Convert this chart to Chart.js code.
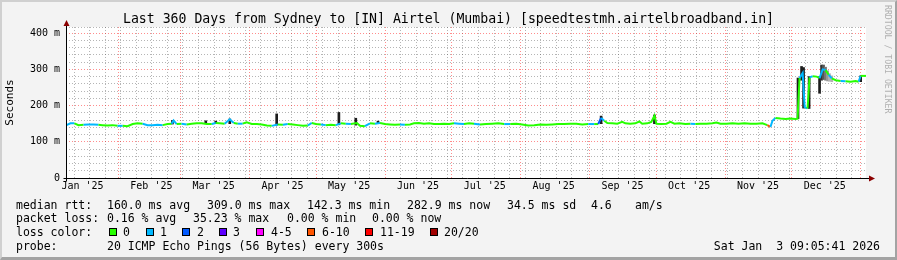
<!DOCTYPE html>
<html>
<head>
<meta charset="utf-8">
<script src="https://cdn.jsdelivr.net/npm/chart.js@4.4.1/dist/chart.umd.min.js"></script>
<style>
  body { margin: 0; background: #fff; }
  #wrap { position: relative; width: 897px; height: 260px; background: #f3f3f3; overflow: hidden;
          font-family: 'DejaVu Sans Mono', monospace; color: #000; }
  #c { position: absolute; left: 0; top: 0; }
  #frame { position: absolute; left: 0; top: 0; width: 897px; height: 260px; box-sizing: border-box;
           border-style: solid; border-width: 2px 2px 3px 2px;
           border-color: #d0d0d0 #a3a3a3 #a3a3a3 #d0d0d0; pointer-events: none; }
  #title { position: absolute; left: 0; top: 11px; width: 897px; text-align: center;
           font-size: 13.2px; line-height: 16px; white-space: pre; }
  #brand { position: absolute; left: 883px; top: 5px; writing-mode: vertical-rl; font-size: 8.2px;
           line-height: 10px; color: #b0b0b0; white-space: pre; }
  .t { position: absolute; white-space: pre; font-size: 11.5px; line-height: 14px; }
  .sq { position: absolute; top: 228px; width: 6px; height: 6px; border: 1px solid #000; }
</style>
</head>
<body>
<div id="wrap">
  <canvas id="c" width="897" height="260"></canvas>
  <div id="title">Last 360 Days from Sydney to [IN] Airtel (Mumbai) [speedtestmh.airtelbroadband.in]</div>
  <div id="brand">RRDTOOL / TOBI OETIKER</div>

  <div class="t" style="left:16px;top:198px">median rtt:</div>
  <div class="t" style="left:107px;top:198px">160.0 ms avg</div>
  <div class="t" style="left:207px;top:198px">309.0 ms max</div>
  <div class="t" style="left:307px;top:198px">142.3 ms min</div>
  <div class="t" style="left:407px;top:198px">282.9 ms now</div>
  <div class="t" style="left:507px;top:198px">34.5 ms sd</div>
  <div class="t" style="left:591px;top:198px">4.6</div>
  <div class="t" style="left:635px;top:198px">am/s</div>

  <div class="t" style="left:16px;top:211px">packet loss:</div>
  <div class="t" style="left:107px;top:211px">0.16 % avg</div>
  <div class="t" style="left:193px;top:211px">35.23 % max</div>
  <div class="t" style="left:287px;top:211px">0.00 % min</div>
  <div class="t" style="left:372px;top:211px">0.00 % now</div>

  <div class="t" style="left:16px;top:225px">loss color:</div>
  <div class="sq" style="left:109px;background:#26ff00"></div><div class="t" style="left:123px;top:225px">0</div>
  <div class="sq" style="left:146px;background:#00b8ff"></div><div class="t" style="left:160px;top:225px">1</div>
  <div class="sq" style="left:182px;background:#0059ff"></div><div class="t" style="left:197px;top:225px">2</div>
  <div class="sq" style="left:219px;background:#5e00ff"></div><div class="t" style="left:233px;top:225px">3</div>
  <div class="sq" style="left:256px;background:#ff00ff"></div><div class="t" style="left:271px;top:225px">4-5</div>
  <div class="sq" style="left:307px;background:#ff5500"></div><div class="t" style="left:322px;top:225px">6-10</div>
  <div class="sq" style="left:365px;background:#ff0000"></div><div class="t" style="left:380px;top:225px">11-19</div>
  <div class="sq" style="left:430px;background:#a10000"></div><div class="t" style="left:444px;top:225px">20/20</div>

  <div class="t" style="left:16px;top:239px">probe:</div>
  <div class="t" style="left:107px;top:239px">20 ICMP Echo Pings (56 Bytes) every 300s</div>
  <div class="t" style="right:17px;top:239px">Sat Jan  3 09:05:41 2026</div>

  <div id="frame"></div>
</div>

<script>
// --- Data (x = days since Jan 8 2025 09:05, start of the 360 day window) ---
const medianDays = [
  0.2, 2.0, 3.8, 5.6, 7.9, 10.1, 12.4, 14.6, 16.4, 18.7,
  20.9, 23.2, 25.5, 27.7, 30.0, 32.2, 34.5, 36.7, 39.0, 41.2,
  43.5, 45.7, 47.5, 48.4, 49.8, 52.0, 54.3, 56.6, 58.8, 61.1,
  63.3, 65.6, 67.4, 69.2, 71.4, 73.7, 75.5, 77.3, 79.5, 81.3,
  83.6, 85.9, 88.1, 90.4, 92.6, 95.3, 97.6, 99.8, 102.1, 104.3,
  106.6, 108.8, 110.6, 112.4, 114.7, 116.9, 119.2, 121.4, 123.7, 125.9,
  128.2, 130.9, 132.3, 134.5, 136.8, 139.0, 141.3, 143.5, 145.8, 148.0,
  150.3, 152.5, 154.8, 156.6, 158.8, 161.1, 163.4, 165.6, 167.9, 170.1,
  172.4, 174.6, 176.9, 179.1, 181.4, 183.6, 186.3, 189.0, 191.8, 194.5,
  197.2, 199.9, 202.6, 205.3, 208.0, 210.7, 213.4, 216.1, 218.8, 221.5,
  224.2, 226.9, 229.6, 232.3, 235.0, 237.7, 239.5, 240.8, 242.2, 243.6,
  245.8, 248.1, 250.3, 251.7, 253.9, 256.2, 258.0, 259.3, 261.6, 263.4,
  264.8, 265.7, 267.9, 270.2, 272.0, 273.8, 276.0, 278.7, 281.0, 283.2,
  285.5, 288.2, 290.9, 292.7, 294.5, 297.2, 299.9, 302.6, 305.3, 308.0,
  310.7, 313.4, 315.6, 317.0, 317.9, 319.3, 321.5, 323.8, 326.0, 328.3,
  329.2, 330.1, 331.5, 332.4, 333.7, 334.6, 336.0, 337.8, 339.1, 340.5,
  341.8, 343.2, 344.6, 346.4, 348.6, 350.8, 353.1, 355.3, 356.7, 357.6,
  358.9, 360.0
];
const medianMs = [
  146, 151, 151, 146, 147, 148, 148, 147, 146, 145,
  146, 144, 144, 143, 149, 151, 150, 146, 146, 147,
  146, 149, 150, 159, 149, 150, 148, 150, 151, 151,
  149, 149, 152, 151, 150, 162, 152, 150, 150, 154,
  149, 149, 148, 145, 144, 148, 147, 149, 148, 146,
  144, 145, 152, 149, 148, 146, 147, 146, 151, 150,
  149, 152, 144, 143, 151, 150, 152, 149, 148, 147,
  148, 147, 148, 151, 152, 150, 151, 149, 149, 150,
  149, 151, 150, 149, 151, 150, 148, 149, 150, 151,
  149, 149, 150, 148, 145, 146, 148, 147, 148, 149,
  149, 150, 150, 148, 149, 149, 149, 166, 158, 152,
  151, 150, 155, 151, 150, 151, 156, 150, 151, 155,
  172, 150, 149, 150, 155, 150, 151, 149, 150, 149,
  150, 150, 151, 153, 150, 150, 151, 150, 151, 150,
  150, 151, 146, 141, 158, 166, 164, 163, 164, 163,
  164, 276, 290, 196, 192, 278, 281, 280, 276, 300,
  298, 285, 275, 270, 268, 267, 266, 268, 266, 282,
  282, 282
];
// packet loss class per sample (index into the loss colour legend)
const lossIdx = [
  0, 1, 1, 0, 0, 1, 1, 1, 0, 0,
  0, 0, 1, 0, 0, 0, 0, 1, 1, 1,
  1, 0, 0, 1, 1, 0, 1, 0, 0, 0,
  0, 0, 1, 0, 0, 1, 1, 0, 1, 0,
  0, 0, 0, 0, 0, 1, 0, 1, 0, 0,
  0, 0, 1, 0, 0, 1, 0, 0, 1, 0,
  1, 0, 0, 0, 1, 0, 1, 0, 0, 0,
  0, 1, 0, 0, 0, 0, 0, 0, 0, 0,
  0, 0, 1, 1, 0, 0, 1, 0, 0, 0,
  0, 1, 0, 0, 0, 0, 0, 0, 0, 0,
  0, 0, 0, 0, 0, 1, 0, 2, 1, 0,
  0, 0, 0, 0, 0, 0, 0, 0, 0, 0,
  0, 0, 0, 0, 0, 0, 0, 0, 0, 1,
  0, 0, 0, 0, 0, 0, 0, 0, 0, 0,
  0, 0, 0, 5, 1, 1, 0, 0, 0, 0,
  0, 0, 1, 1, 1, 0, 1, 0, 0, 1,
  1, 0, 1, 0, 0, 1, 0, 0, 0, 1,
  0, 0
];

// smoke: spread of the individual pings (low / high) and how dense it is (0 = dense)
const smokeDays = [47.9, 62.9, 67.4, 73.7, 94.8, 122.8, 130.4, 140.4, 240.8, 264.8,
                   329.4, 331.0, 331.9, 334.4, 339.1, 340.0, 340.9, 341.8, 342.7, 343.6, 344.6, 357.6];
const smokeLow  = [149, 150, 150, 150, 146, 147, 146, 150, 150, 150,
                   164, 270, 193, 192, 234, 270, 272, 270, 268, 267, 266, 266];
const smokeHigh = [159, 158, 157, 163, 177, 181, 165, 157, 171, 174,
                   276, 308, 305, 280, 280, 312, 312, 306, 296, 288, 282, 282];
const smokeDensity = [0, 0, 0, 0, 0, 0, 0, 0, 0, 0,
                      0, 0, 0, 0, 0, 1, 2, 3, 4, 5, 5, 0];

// axis: month starts (major grid) and month labels
const monthStartDays = [23.62, 51.62, 82.62, 112.62, 143.62, 173.62, 204.62, 235.62, 265.62, 296.62, 326.62, 357.62];
const monthLabelDays = [7.42, 38.42, 66.42, 97.42, 127.42, 158.42, 188.42, 219.42, 250.42, 280.42, 311.42, 341.42];
const monthLabels = ["Jan '25", "Feb '25", "Mar '25", "Apr '25", "May '25", "Jun '25",
                     "Jul '25", "Aug '25", "Sep '25", "Oct '25", "Nov '25", "Dec '25"];
const firstSunday = 3.62;
const yTickValues = [0, 20, 40, 60, 80, 100, 120, 140, 160, 180, 200, 220, 240, 260, 280, 300, 320, 340, 360, 380, 400];
const Y_MAX = 417;

// --- Styles ---
const FONT = "'DejaVu Sans Mono', monospace";
const LOSS_COLORS = ['#26ff00', '#00b8ff', '#0059ff', '#5e00ff', '#ff00ff', '#ff5500', '#ff0000', '#a10000'];
const SMOKE_GREYS = ['#1c1c1c', '#333333', '#555555', '#777777', '#999999', '#b4b4b4'];
const MAJOR_GRID = 'rgba(255,0,0,0.45)';
const MINOR_GRID = 'rgba(70,70,70,0.4)';
const GRID_DASH = [1, 2];

const key = v => Math.round(v * 100);
const monthKeys = new Set(monthStartDays.map(key));
const weekDays = [];
for (let k = 0; firstSunday + 7 * k < 360; k++) weekDays.push(+(firstSunday + 7 * k).toFixed(2));
const weekKeys = new Set(weekDays.filter(d => !monthKeys.has(key(d))).map(key));
const labelByKey = new Map(monthLabelDays.map((d, i) => [key(d), monthLabels[i]]));

// white plot area
const plotBg = {
  id: 'plotBg',
  beforeDraw(chart) {
    const { ctx, chartArea: a } = chart;
    ctx.save();
    ctx.fillStyle = '#ffffff';
    ctx.fillRect(a.left, a.top, a.right - a.left, a.bottom - a.top);
    ctx.restore();
  }
};

// axis lines with the little rrdtool arrows
const axisArrows = {
  id: 'axisArrows',
  afterDatasetsDraw(chart) {
    const { ctx, chartArea: a } = chart;
    const x0 = Math.round(a.left) + 0.5;
    const y0 = Math.round(a.bottom) + 0.5;
    ctx.save();
    ctx.strokeStyle = '#000';
    ctx.lineWidth = 1;
    ctx.beginPath();
    ctx.moveTo(x0 - 3, y0); ctx.lineTo(a.right + 5, y0);
    ctx.moveTo(x0, y0 + 3); ctx.lineTo(x0, a.top - 4);
    ctx.stroke();
    ctx.fillStyle = '#8b0000';
    ctx.beginPath();
    ctx.moveTo(a.right + 9, y0); ctx.lineTo(a.right + 3, y0 - 3); ctx.lineTo(a.right + 3, y0 + 3);
    ctx.closePath(); ctx.fill();
    ctx.beginPath();
    ctx.moveTo(x0, a.top - 7); ctx.lineTo(x0 - 3, a.top - 1); ctx.lineTo(x0 + 3, a.top - 1);
    ctx.closePath(); ctx.fill();
    ctx.restore();
  }
};

new Chart(document.getElementById('c'), {
  type: 'line',
  data: {
    datasets: [
      {
        type: 'line',
        label: 'median rtt',
        data: medianDays.map((d, i) => ({ x: d, y: medianMs[i] })),
        borderColor: LOSS_COLORS[0],
        borderWidth: 2,
        pointRadius: 0,
        tension: 0,
        segment: { borderColor: ctx => LOSS_COLORS[lossIdx[ctx.p1DataIndex]] },
        order: 0
      },
      {
        type: 'bar',
        label: 'smoke',
        data: smokeDays.map((d, i) => ({ x: d, y: [smokeLow[i], smokeHigh[i]] })),
        backgroundColor: smokeDensity.map(s => SMOKE_GREYS[s]),
        borderWidth: 0,
        barThickness: 2,
        order: 1
      }
    ]
  },
  options: {
    responsive: false,
    animation: false,
    events: [],
    layout: { padding: { top: 27, right: 31, left: 0, bottom: 0 } },
    plugins: { legend: { display: false }, tooltip: { enabled: false } },
    scales: {
      x: {
        type: 'linear',
        min: 0,
        max: 360,
        offset: false,
        afterBuildTicks: axis => {
          const vals = [...monthStartDays, ...weekDays.filter(d => weekKeys.has(key(d))), ...monthLabelDays];
          axis.ticks = vals.sort((a, b) => a - b).map(v => ({ value: v }));
        },
        afterFit: s => { s.height = 82; },
        ticks: {
          autoSkip: false,
          maxRotation: 0,
          minRotation: 0,
          padding: 2,
          color: '#000',
          font: { family: FONT, size: 10 },
          callback: v => labelByKey.get(key(v)) || ''
        },
        grid: {
          offset: false,
          drawTicks: false,
          lineWidth: 1,
          color: ctx => {
            const k = key(ctx.tick ? ctx.tick.value : -1);
            if (monthKeys.has(k)) return MAJOR_GRID;
            if (weekKeys.has(k)) return MINOR_GRID;
            return 'rgba(0,0,0,0)';
          }
        },
        border: { display: false, dash: GRID_DASH }
      },
      y: {
        type: 'linear',
        min: 0,
        max: Y_MAX,
        afterBuildTicks: axis => {
          axis.ticks = [...yTickValues, Y_MAX].map(v => ({ value: v }));
        },
        afterFit: s => { s.width = 66; },
        title: {
          display: true,
          text: 'Seconds',
          color: '#000',
          font: { family: FONT, size: 11 },
          padding: { top: 4, bottom: 0 }
        },
        ticks: {
          autoSkip: false,
          padding: 6,
          color: '#000',
          font: { family: FONT, size: 10 },
          callback: v => (v % 100 === 0 ? (v === 0 ? '0' : v + ' m') : '')
        },
        grid: {
          drawTicks: false,
          lineWidth: 1,
          color: ctx => {
            const v = ctx.tick ? ctx.tick.value : 0;
            if (v > 0 && v % 100 === 0) return MAJOR_GRID;
            return MINOR_GRID;
          }
        },
        border: { display: false, dash: GRID_DASH }
      }
    }
  },
  plugins: [plotBg, axisArrows]
});
</script>
</body>
</html>
